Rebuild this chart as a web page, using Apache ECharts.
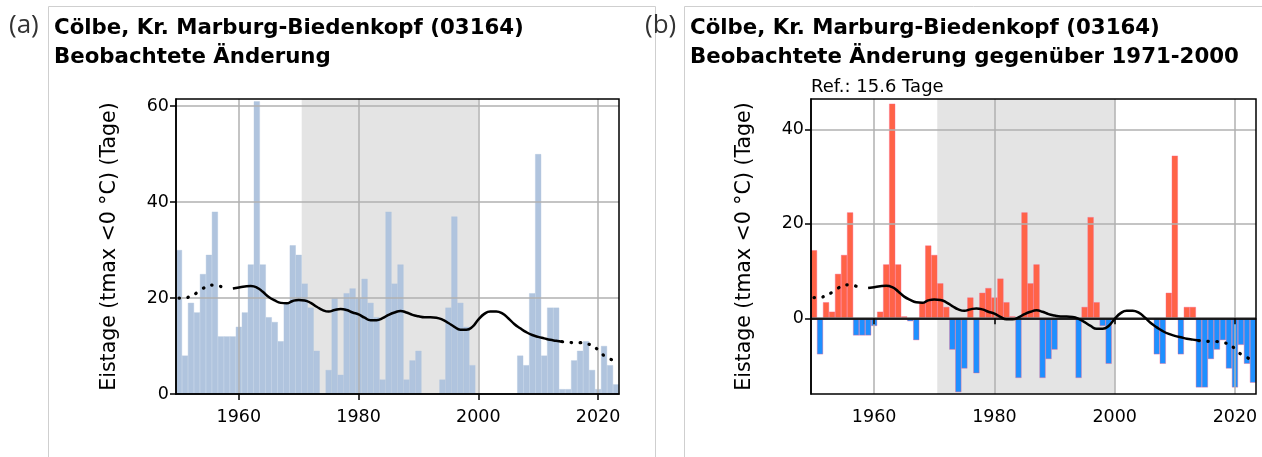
<!DOCTYPE html>
<html>
<head>
<meta charset="utf-8">
<script src="https://cdn.jsdelivr.net/npm/echarts@6/dist/echarts.min.js"></script>
<style>
html, body { margin: 0; padding: 0; background: #fff; }
#chart { width: 1262px; height: 457px; }
</style>
</head>
<body>
<div id="chart"></div>
<script>
// --- data ---
const firstYear = 1950
const lastYear = 2023
const years = []
for (let y = firstYear; y <= lastYear; y++) years.push(String(y))

// observed ice days per year, null = no data
const eistage = [
  30, 8, 19, 17, 25, 29, 38, 12, 12, 12,
  14, 17, 27, 61, 27, 16, 15, 11, 19, 31,
  29, 23, 18, 9, 0, 5, 20, 4, 21, 22,
  20, 24, 19, 16, 3, 38, 23, 27, 3, 7,
  9, null, null, null, 3, 18, 37, 19, 14, 6,
  null, null, null, null, null, null, null, 8, 6, 21,
  50, 8, 18, 18, 1, 1, 7, 9, 11, 5,
  1, 10, 6, 2
]

// smoothed curve
const trend = [
  20.0, 20.0, 20.5, 21.1, 22.0, 22.6, 22.7, 22.4, 22.1, 22.0,
  22.2, 22.4, 22.5, 22.2, 21.3, 20.2, 19.5, 19.0, 18.9, 19.4,
  19.6, 19.5, 19.0, 18.2, 17.5, 17.2, 17.5, 17.7, 17.5, 17.0,
  16.6, 15.9, 15.4, 15.4, 15.8, 16.5, 17.0, 17.3, 17.0, 16.5,
  16.2, 16.0, 16.0, 15.9, 15.5, 14.8, 14.0, 13.4, 13.4, 14.0,
  15.5, 16.7, 17.2, 17.2, 16.8, 15.8, 14.6, 13.7, 12.9, 12.3,
  11.9, 11.6, 11.3, 11.1, 10.9, 10.8, 10.7, 10.7, 10.5, 10.1,
  9.2, 8.0, 7.3, 6.8
]
const dottedUntil = 1957
const solidFrom = 1959
const solidUntil = 2014

const refValue = 15.6          // mean 1971-2000
const refPeriod = [1970.5, 2000]
const xTicks = [1960, 1980, 2000, 2020]
const yTicksA = [0, 20, 40, 60]
const yTicksB = [0, 20, 40]

// --- derived ---
const anomalies = eistage.map(v => v == null ? null : +(v - refValue).toFixed(1))
const trendAnom = trend.map(v => +(v - refValue).toFixed(2))
function solidPart(arr) {
  return arr.map((v, i) => (firstYear + i >= solidFrom && firstYear + i <= solidUntil) ? v : null)
}
function dottedPart(arr) {
  return arr.map((v, i) => (firstYear + i <= dottedUntil || firstYear + i >= solidUntil) ? v : null)
}

const font = 'DejaVu Sans'
const tickSize = 17.5
const gridA = {left: 176, top: 99, width: 443, height: 295}
const gridB = {left: 811, top: 99, width: 445, height: 295}
const isTick = (i, v) => Number(v) % 20 === 0

function catAxis(g) {
  return {
    type: 'category', gridIndex: g, data: years, boundaryGap: true, z: 10,
    axisLine: {show: true, lineStyle: {color: '#000', width: 1.5}},
    axisTick: {show: true, alignWithLabel: true, interval: isTick, length: 6, lineStyle: {color: '#000', width: 1.5}},
    axisLabel: {interval: isTick, color: '#000', fontSize: tickSize, fontFamily: font, margin: 14},
    splitLine: {show: false}
  }
}
function valAxis(g) {
  return {type: 'value', gridIndex: g, min: firstYear - 0.5, max: lastYear + 0.5, show: false}
}
function yAxis(g, min, max, ticks) {
  return {
    type: 'value', gridIndex: g, min: min, max: max, z: 10,
    axisLine: {show: true, lineStyle: {color: '#000', width: 1.5}},
    axisTick: {show: true, customValues: ticks, length: 6, lineStyle: {color: '#000', width: 1.5}},
    axisLabel: {customValues: ticks, color: '#000', fontSize: tickSize, fontFamily: font, margin: 7},
    splitLine: {show: false},
    name: 'Eistage (tmax <0 °C) (Tage)', nameLocation: 'middle', nameRotate: 90, nameGap: 56,
    nameTextStyle: {color: '#000', fontSize: 20.5, fontFamily: font}
  }
}
function gridLines(yTicks) {
  return xTicks.map(x => ({xAxis: x})).concat(yTicks.map(y => ({yAxis: y})))
}
function backSeries(xi, yi, yTicks) {
  return [
    {
      type: 'line', xAxisIndex: xi, yAxisIndex: yi, z: 1, silent: true,
      data: [[firstYear, 0]], showSymbol: false, lineStyle: {width: 0},
      markArea: {silent: true, itemStyle: {color: '#e4e4e4'}, data: [[{xAxis: refPeriod[0]}, {xAxis: refPeriod[1]}]]}
    },
    {
      type: 'line', xAxisIndex: xi, yAxisIndex: yi, z: 3, silent: true,
      data: [[firstYear, 0]], showSymbol: false, lineStyle: {width: 0},
      markLine: {
        silent: true, symbol: 'none', label: {show: false}, animation: false,
        lineStyle: {color: '#b0b0b0', width: 1.5, type: 'solid'},
        data: gridLines(yTicks)
      }
    }
  ]
}
function trendSeries(xi, yi, vals) {
  return [
    {
      type: 'line', xAxisIndex: xi, yAxisIndex: yi, z: 5, data: solidPart(vals), smooth: true,
      showSymbol: false, lineStyle: {color: '#000', width: 2.5}
    },
    {
      type: 'line', xAxisIndex: xi, yAxisIndex: yi, z: 5, data: dottedPart(vals), smooth: true,
      showSymbol: false, lineStyle: {color: '#000', width: 3.2, type: [0.5, 8.5], cap: 'round'}
    }
  ]
}

let chart = echarts.init(document.getElementById('chart'), null, {renderer: 'canvas'})
const titleFont = {fontSize: 21.3, fontWeight: 'bold', fontFamily: font, color: '#000', lineHeight: 29}
const tagFont = {fontSize: 26, fontWeight: 'normal', fontFamily: 'Open Sans', color: '#333'}
let option = {
  animation: false,
  backgroundColor: '#fff',
  title: [
    {text: '(a)', left: 4, top: 8, textStyle: tagFont},
    {text: 'Cölbe, Kr. Marburg-Biedenkopf (03164)\nBeobachtete Änderung', left: 54, top: 14, padding: 0, textStyle: titleFont},
    {text: '(b)', left: 640, top: 8, textStyle: tagFont},
    {text: 'Cölbe, Kr. Marburg-Biedenkopf (03164)\nBeobachtete Änderung gegenüber 1971-2000', left: 690, top: 14, padding: 0, textStyle: titleFont},
    {text: 'Ref.: 15.6 Tage', left: gridB.left, top: 78, padding: 0, textStyle: {fontSize: 18, fontWeight: 'normal', fontFamily: font, color: '#000'}}
  ],
  graphic: [
    {type: 'rect', silent: true, shape: {x: 48.5, y: 6.5, width: 607, height: 470}, style: {fill: 'none', stroke: '#cfcfcf', lineWidth: 1}},
    {type: 'rect', silent: true, shape: {x: 684.5, y: 6.5, width: 620, height: 470}, style: {fill: 'none', stroke: '#cfcfcf', lineWidth: 1}}
  ],
  grid: [
    Object.assign({show: true, z: 10, borderColor: '#000', borderWidth: 1.5, backgroundColor: 'transparent'}, gridA),
    Object.assign({show: true, z: 10, borderColor: '#000', borderWidth: 1.5, backgroundColor: 'transparent'}, gridB)
  ],
  xAxis: [catAxis(0), valAxis(0), catAxis(1), valAxis(1)],
  yAxis: [yAxis(0, 0, 61.5, yTicksA), yAxis(1, -16, 46.4, yTicksB)],
  series: [].concat(
    backSeries(1, 0, yTicksA.slice(1)),
    [{
      type: 'bar', xAxisIndex: 0, yAxisIndex: 0, z: 2, data: eistage,
      barWidth: '100%', barCategoryGap: '0%',
      itemStyle: {color: '#b0c4de', borderColor: '#b0c4de', borderWidth: 0.4}
    }],
    trendSeries(0, 0, trend),
    backSeries(3, 1, yTicksB.slice(1)),
    [{
      type: 'bar', xAxisIndex: 2, yAxisIndex: 1, z: 2, data: anomalies,
      barWidth: '100%', barCategoryGap: '0%',
      itemStyle: {
        color: p => p.value >= 0 ? '#ff6347' : '#1e90ff',
        borderColor: p => p.value >= 0 ? '#ff6347' : '#1e90ff', borderWidth: 0.4
      }
    },
    {
      type: 'line', xAxisIndex: 3, yAxisIndex: 1, z: 4, silent: true,
      data: [[firstYear, 0]], showSymbol: false, lineStyle: {width: 0},
      markLine: {
        silent: true, symbol: 'none', label: {show: false}, animation: false,
        lineStyle: {color: '#6e6e6e', width: 2.5, type: 'solid'},
        data: [{yAxis: 0}]
      }
    }],
    trendSeries(2, 1, trendAnom)
  )
}
chart.setOption(option)
</script>
</body>
</html>
